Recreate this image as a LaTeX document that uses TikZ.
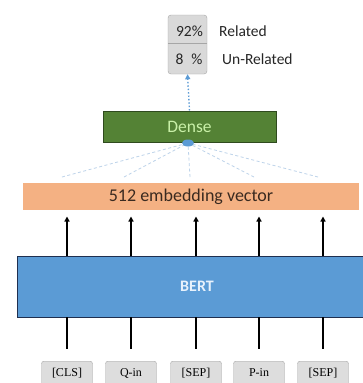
\documentclass[tikz,border=0pt]{standalone}
\usepackage{fontspec}
\setmainfont{Carlito}
\newfontfamily\tokfont{Liberation Serif}
\usetikzlibrary{arrows.meta}
\definecolor{embfill}{HTML}{F4B183}
\definecolor{embtext}{HTML}{3A2A20}
\definecolor{bertfill}{HTML}{5B9BD5}
\definecolor{bertline}{HTML}{1F2F4F}
\definecolor{berttext}{HTML}{E8F2FC}
\definecolor{densefill}{HTML}{548235}
\definecolor{denseline}{HTML}{2F4A1E}
\definecolor{densetext}{HTML}{C9F0A8}
\definecolor{outfill}{HTML}{D9D9D9}
\definecolor{outline}{HTML}{A6A6A6}
\definecolor{tokfill}{HTML}{DDDDDD}
\definecolor{fanline}{HTML}{BDD3EA}
\tikzset{
  tokbox/.style={draw=outline, fill=tokfill, rounded corners=2.5pt, minimum width=51pt, minimum height=30pt, anchor=north, inner sep=0pt},
  uparrow/.style={-{Triangle[length=5pt,width=5pt]}, line width=1.4pt, black},
  stem/.style={line width=1.4pt, black},
  fan/.style={fanline, dashed, line width=0.8pt, dash pattern=on 3pt off 2.5pt},
  pct/.style={font=\fontsize{15.5}{17}\selectfont, text=black!85},
}
\begin{document}
\begin{tikzpicture}[x=1pt,y=-1pt]
\useasboundingbox (0,0) rectangle (363,383);
\fill[white] (0,0) rectangle (363,383);

% output probabilities
\node[draw=outline, fill=outfill, rounded corners=3pt, minimum width=39pt, minimum height=59pt, inner sep=0pt] (out) at (187.5,44.5) {};
\draw[outline, line width=0.6pt] (168,43) -- (207,43);
\node[pct] (p1) at (189.5,31) {92\%};
\node[pct] (p2) at (189,59) {8\hspace{0.5em}\%};
\node[pct, anchor=west, inner sep=0pt] (l1) at (219,31) {Related};
\node[pct, anchor=west, inner sep=0pt] (l2) at (222,59) {Un-Related};

% dense layer
\node[draw=denseline, fill=densefill, line width=1pt, minimum width=173pt, minimum height=31pt, inner sep=0pt, text=densetext, font=\fontsize{17.5}{19}\selectfont] (dense) at (189.5,126.5) {Dense};
\draw[bertfill, dotted, line width=1.4pt, -{Triangle[length=5pt,width=5pt]}] (dense.north) -- (out.south);
\coordinate (dfoot) at (188,143);

% embedding vector
\node[fill=embfill, minimum width=336pt, minimum height=27pt, inner sep=0pt, font=\fontsize{18}{20}\selectfont, text=embtext] (emb) at (191,196.5) {512 embedding vector};

% fan-in from embedding to dense
\foreach \x [count=\i] in {62,124,190,254,318} {
  \coordinate (f\i) at (\x,177);
  \draw[fan] (f\i) -- (dfoot);
}
\fill[bertfill] (dfoot) ellipse (6pt and 3.5pt);

% BERT encoder
\node[draw=bertline, fill=bertfill, line width=1pt, minimum width=360pt, minimum height=61pt, inner sep=0pt, text=berttext, font=\bfseries\fontsize{16}{18}\selectfont] (bert) at (197,286.5) {BERT};

% tokens
\foreach \x/\t [count=\i] in {67/[CLS],131/Q-in,196/[SEP],259/P-in,323/[SEP]} {
  \node[tokbox] (tok\i) at (\x,361) {};
  \node[font=\tokfont\fontsize{12}{14}\selectfont] (tt\i) at (\x,373) {\t};
  \coordinate (b\i) at (\x,256);
  \coordinate (s\i) at (\x,349);
  \draw[stem] (\x,317) -- (s\i);
  \draw[uparrow] (b\i) -- (\x,216.5);
}
\end{tikzpicture}
\end{document}
